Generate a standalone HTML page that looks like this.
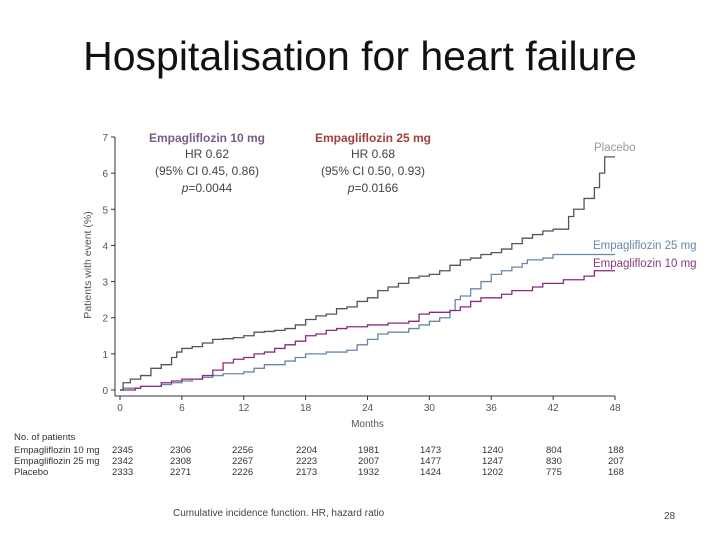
<!DOCTYPE html>
<html><head><meta charset="utf-8"><style>
body{margin:0;background:#fff;}
#wrap{position:relative;width:720px;height:540px;overflow:hidden;font-family:"Liberation Sans",sans-serif;}
svg text{font-family:"Liberation Sans",sans-serif;}
</style></head><body>
<div id="wrap">
<svg id="chart" width="720" height="540">
<text x="360" y="70" text-anchor="middle" font-size="41" fill="#111">Hospitalisation for heart failure</text>
<g id="axes"></g>
<g id="lines"></g>
<g font-size="12" text-anchor="middle" fill="#444">
<text x="207" y="142" fill="#7a5c8a" font-weight="bold">Empagliflozin 10 mg</text>
<text x="207" y="158">HR 0.62</text>
<text x="207" y="175">(95% CI 0.45, 0.86)</text>
<text x="207" y="192"><tspan font-style="italic">p</tspan>=0.0044</text>
</g>
<g font-size="12" text-anchor="middle" fill="#444">
<text x="373" y="142" fill="#a0403c" font-weight="bold">Empagliflozin 25 mg</text>
<text x="373" y="158">HR 0.68</text>
<text x="373" y="175">(95% CI 0.50, 0.93)</text>
<text x="373" y="192"><tspan font-style="italic">p</tspan>=0.0166</text>
</g>
<text x="594" y="151" font-size="11.5" fill="#999">Placebo</text>
<text x="593" y="249" font-size="11.5" fill="#6a86a8">Empagliflozin 25 mg</text>
<text x="593" y="267" font-size="11.5" fill="#8a3a80">Empagliflozin 10 mg</text>
<g id="table" font-size="9.5" fill="#333"></g>
<text x="173" y="516" font-size="10" fill="#444">Cumulative incidence function. HR, hazard ratio</text>
<text x="664" y="519" font-size="10" fill="#444">28</text>
</svg>
</div>
<script>
const xTicks=[0,6,12,18,24,30,36,42,48];
const yTicks=[0,1,2,3,4,5,6,7];
const placeboT=[0,0.3,1,2,3,4,5,5.5,6,7,8,9,10,11,12,13,14,15,16,17,18,19,20,21,22,23,24,25,26,27,28,29,30,31,32,33,34,35,36,37,38,39,40,41,42,43.5,44,45,46,46.5,47,48];
const placeboV=[0,0.2,0.3,0.4,0.6,0.7,0.9,1.05,1.15,1.2,1.3,1.4,1.42,1.45,1.5,1.6,1.62,1.65,1.7,1.8,1.95,2.05,2.1,2.25,2.3,2.45,2.55,2.75,2.85,2.95,3.1,3.15,3.2,3.3,3.45,3.6,3.65,3.75,3.8,3.9,4.05,4.2,4.3,4.4,4.45,4.8,5.0,5.3,5.6,6.0,6.45,6.45];
const empa25T=[0,0.3,2,4,5,6,7,8,9,10,12,13,14,16,17,18,20,22,23,24,25,26,28,29,30,31,32,32.5,33,34,35,36,37,38,39,39.5,41,42,48];
const empa25V=[0,0.05,0.1,0.15,0.2,0.25,0.3,0.35,0.4,0.45,0.5,0.6,0.7,0.8,0.9,1.0,1.05,1.1,1.25,1.4,1.55,1.6,1.7,1.8,1.9,2.0,2.2,2.5,2.6,2.8,3.0,3.2,3.3,3.4,3.5,3.6,3.65,3.75,3.75];
const empa10T=[0,1.5,2,4,5,6,8,9,10,11,12,13,14,15,16,17,18,19,20,21,22,24,26,28,29,30,32,33,34,35,37,38,40,41,43,45,46,48];
const empa10V=[0,0.05,0.1,0.2,0.25,0.3,0.4,0.55,0.75,0.85,0.9,1.0,1.05,1.15,1.25,1.35,1.5,1.55,1.65,1.7,1.75,1.8,1.85,1.9,2.1,2.15,2.2,2.3,2.45,2.55,2.65,2.75,2.85,2.95,3.05,3.15,3.3,3.3];
const rowNames=["Empagliflozin 10 mg","Empagliflozin 25 mg","Placebo"];
const atRisk10=[2345,2306,2256,2204,1981,1473,1240,804,188];
const atRisk25=[2342,2308,2267,2223,2007,1477,1247,830,207];
const atRiskP=[2333,2271,2226,2173,1932,1424,1202,775,168];

const X0=120,X1=615,Y0=390,Y7=137;
const sx=m=>X0+m/48*(X1-X0);
const sy=v=>Y0-v/7*(Y0-Y7);
const NS="http://www.w3.org/2000/svg";
function mk(tag,attrs,parent,text){const e=document.createElementNS(NS,tag);for(const k in attrs)e.setAttribute(k,attrs[k]);if(text!==undefined)e.textContent=text;parent.appendChild(e);return e;}
const ax=document.getElementById('axes');
let a=mk('line',{x1:115,y1:Y7,x2:115,y2:396,stroke:'#333','stroke-width':1},ax);


a=mk('line',{x1:115,y1:396,x2:X1,y2:396,stroke:'#333','stroke-width':1},ax);


yTicks.forEach(v=>{
  const t=mk('line',{x1:111,y1:sy(v),x2:115,y2:sy(v),stroke:'#333'},ax);
  
  
  const l=mk('text',{x:108,y:sy(v)+4,'text-anchor':'end','font-size':10,fill:'#555'},ax,String(v));
  
  
});
xTicks.forEach(m=>{
  const t=mk('line',{x1:sx(m),y1:396,x2:sx(m),y2:400,stroke:'#333'},ax);
  
  
  const l=mk('text',{x:sx(m),y:411,'text-anchor':'middle','font-size':10,fill:'#555'},ax,String(m));
  
  
});
let t=mk('text',{x:sx(24),y:427,'text-anchor':'middle','font-size':10,fill:'#555'},ax,'Months');


t=mk('text',{x:0,y:0,transform:'translate(91,265) rotate(-90)','text-anchor':'middle','font-size':10.5,fill:'#555'},ax,'Patients with event (%)');



const lg=document.getElementById('lines');
function step(T,V,color,name){
  let d='M'+sx(T[0])+','+sy(V[0]);
  for(let i=1;i<T.length;i++){d+=' H'+sx(T[i])+' V'+sy(V[i]);}
  const p=mk('path',{d:d,fill:'none',stroke:color,'stroke-width':1.3},lg);
  
  
}
step(empa25T,empa25V,'#6a86a8','line-empa25');
step(empa10T,empa10V,'#8a2a7e','line-empa10');
step(placeboT,placeboV,'#555','line-placebo');

const tb=document.getElementById('table');
t=mk('text',{x:14,y:440},tb,'No. of patients');


const cols=[112,170,232,296,358,420,482,546,608];
[atRisk10,atRisk25,atRiskP].forEach((row,r)=>{
  const y=453+r*11;
  const n=mk('text',{x:14,y:y},tb,rowNames[r]);
  
  
  row.forEach((v,i)=>{
    const c=mk('text',{x:cols[i],y:y},tb,String(v));
    
    
  });
});
</script>
</body></html>
